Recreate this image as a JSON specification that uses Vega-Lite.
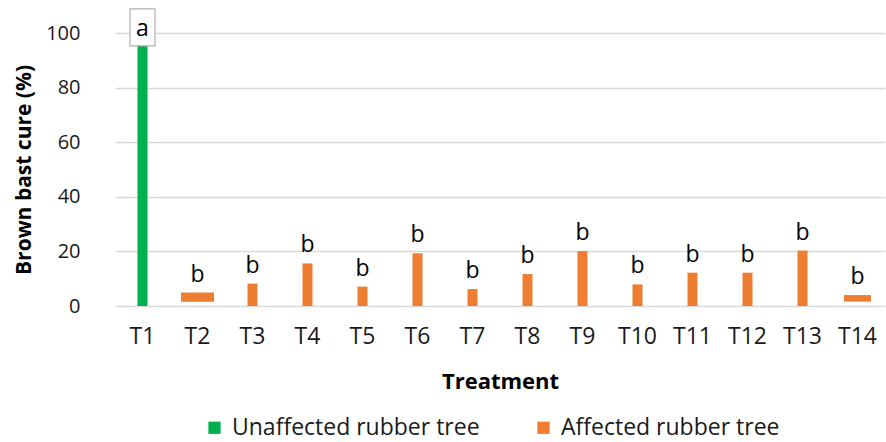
{
  "$schema": "https://vega.github.io/schema/vega-lite/v6.json",
  "width": 770,
  "height": 273,
  "autosize": {"type": "none"},
  "padding": {"left": 115, "top": 33, "right": 1, "bottom": 136},
  "background": "white",
  "config": {
    "font": "Open Sans",
    "view": {"stroke": null},
    "axis": {"labelFont": "Open Sans", "titleFont": "Open Sans", "labelColor": "#1a1a1a", "titleColor": "#000000"}
  },
  "data": {
    "values": [
      {"t": "T1", "group": "Unaffected rubber tree", "lo": 0, "hi": 100, "label": "a"},
      {"t": "T2", "group": "Affected rubber tree", "lo": 1.6, "hi": 4.9, "label": "b"},
      {"t": "T3", "group": "Affected rubber tree", "lo": 0, "hi": 8.2, "label": "b"},
      {"t": "T4", "group": "Affected rubber tree", "lo": 0, "hi": 15.6, "label": "b"},
      {"t": "T5", "group": "Affected rubber tree", "lo": 0, "hi": 7.1, "label": "b"},
      {"t": "T6", "group": "Affected rubber tree", "lo": 0, "hi": 19.3, "label": "b"},
      {"t": "T7", "group": "Affected rubber tree", "lo": 0, "hi": 6.2, "label": "b"},
      {"t": "T8", "group": "Affected rubber tree", "lo": 0, "hi": 11.7, "label": "b"},
      {"t": "T9", "group": "Affected rubber tree", "lo": 0, "hi": 20.1, "label": "b"},
      {"t": "T10", "group": "Affected rubber tree", "lo": 0, "hi": 7.9, "label": "b"},
      {"t": "T11", "group": "Affected rubber tree", "lo": 0, "hi": 12.2, "label": "b"},
      {"t": "T12", "group": "Affected rubber tree", "lo": 0, "hi": 12.2, "label": "b"},
      {"t": "T13", "group": "Affected rubber tree", "lo": 0, "hi": 20.3, "label": "b"},
      {"t": "T14", "group": "Affected rubber tree", "lo": 1.6, "hi": 4.0, "label": "b"}
    ]
  },
  "encoding": {
    "x": {
      "field": "t", "type": "nominal", "sort": null,
      "scale": {"paddingInner": 0, "paddingOuter": 0},
      "axis": {"title": "Treatment", "labelAngle": 0, "labelFontSize": 23, "labelPadding": 19, "ticks": false, "domain": false,
               "titleFontSize": 22, "titleFontWeight": "bold", "titlePadding": 23}
    }
  },
  "layer": [
    {
      "mark": {"type": "bar"},
      "encoding": {
        "y": {
          "field": "hi", "type": "quantitative",
          "scale": {"domain": [0, 100], "nice": false},
          "axis": {"title": "Brown bast cure (%)", "values": [0, 20, 40, 60, 80, 100], "labelFontSize": 20, "labelPadding": 35,
                   "ticks": false, "domain": false, "gridColor": "#d9d9d9", "gridWidth": 1.3,
                   "titleFontSize": 21, "titleFontWeight": "bold", "titlePadding": 11}
        },
        "y2": {"field": "lo"},
        "size": {
          "condition": [
            {"test": "datum.t === 'T2'", "value": 33},
            {"test": "datum.t === 'T14'", "value": 27}
          ],
          "value": 10
        },
        "color": {
          "field": "group", "type": "nominal",
          "scale": {"domain": ["Unaffected rubber tree", "Affected rubber tree"], "range": ["#00b050", "#ed7d31"]},
          "legend": {
            "title": null, "orient": "none", "direction": "horizontal", "legendX": 88, "legendY": 383,
            "symbolType": "square", "symbolSize": 150, "symbolStrokeWidth": 0, "labelFontSize": 23, "labelColor": "#1a1a1a",
            "labelFont": "Open Sans", "columnPadding": 52, "symbolOffset": 0, "labelOffset": 6, "labelLimit": 400
          }
        }
      }
    },
    {
      "transform": [{"filter": "datum.t !== 'T1'"}],
      "mark": {"type": "text", "baseline": "bottom", "dy": -6, "fontSize": 23, "color": "#000000", "font": "Open Sans"},
      "encoding": {
        "y": {"field": "hi", "type": "quantitative"},
        "text": {"field": "label"}
      }
    },
    {
      "transform": [{"filter": "datum.t === 'T1'"}],
      "mark": {"type": "point", "filled": true, "fill": "white", "stroke": "#b0b0b0", "strokeWidth": 1.2, "opacity": 1,
               "shape": "M-0.676,-1.3L0.676,-1.3L0.676,0.7L-0.676,0.7Z", "size": 1369},
      "encoding": {
        "y": {"field": "hi", "type": "quantitative"}
      }
    },
    {
      "transform": [{"filter": "datum.t === 'T1'"}],
      "mark": {"type": "text", "baseline": "middle", "dy": -4, "fontSize": 23, "color": "#000000", "font": "Open Sans"},
      "encoding": {
        "y": {"field": "hi", "type": "quantitative"},
        "text": {"field": "label"}
      }
    }
  ]
}
